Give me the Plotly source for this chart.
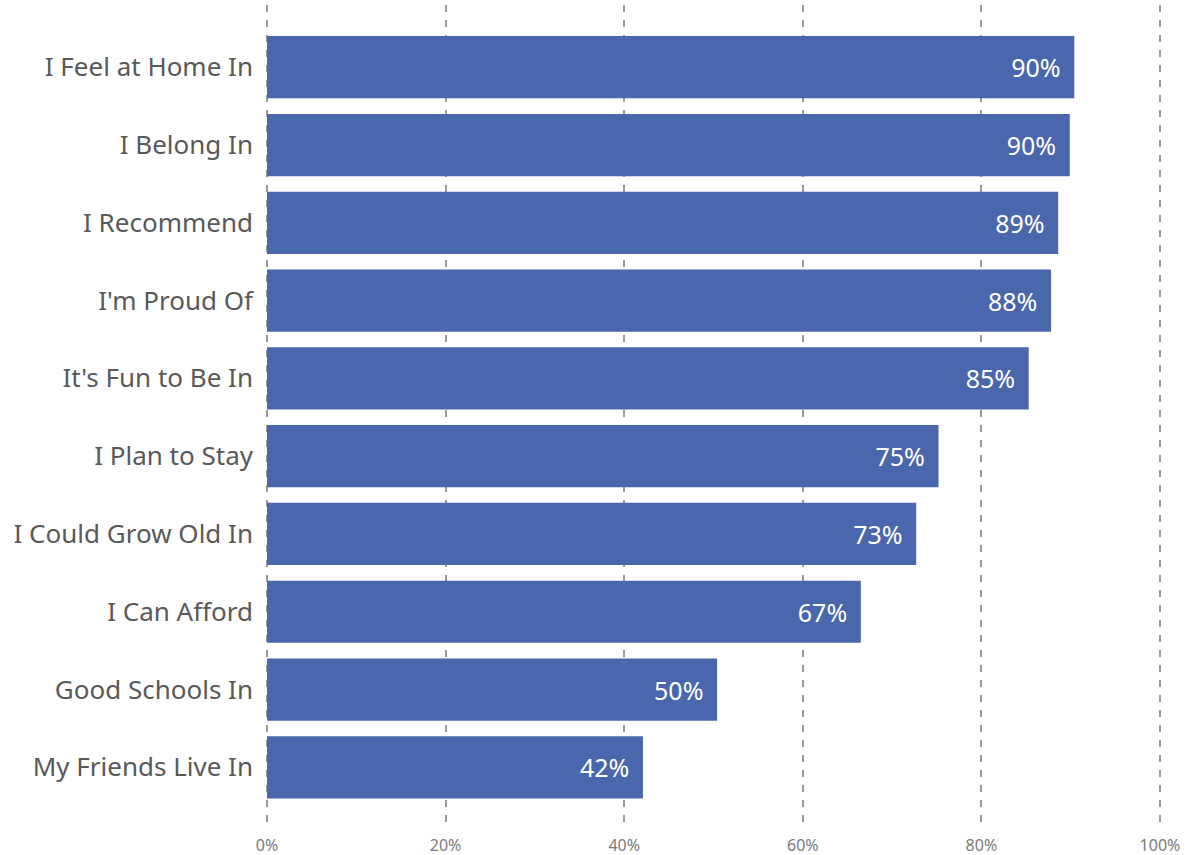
import plotly.graph_objects as go

categories = ["I Feel at Home In", "I Belong In", "I Recommend", "I'm Proud Of",
              "It's Fun to Be In", "I Plan to Stay", "I Could Grow Old In",
              "I Can Afford", "Good Schools In", "My Friends Live In"]
values = [90.4, 89.9, 88.6, 87.8, 85.3, 75.2, 72.7, 66.5, 50.4, 42.1]
tick_vals = [0, 20, 40, 60, 80, 100]
tick_text = ["0%", "20%", "40%", "60%", "80%", "100%"]

FONT = "Noto Sans"

fig = go.Figure(go.Bar(
    x=values, y=categories, orientation="h",
    marker=dict(color="#4A66AC", line=dict(width=0)),
    texttemplate="%{x:.0f}%\u00a0\u2009",
    textposition="inside", insidetextanchor="end",
    textfont=dict(family=FONT, size=25, color="white"),
    cliponaxis=False,
))

fig.update_layout(
    width=1186, height=855,
    margin=dict(l=263, r=22, t=5, b=27),
    paper_bgcolor="white", plot_bgcolor="white",
    bargap=0.2, showlegend=False,
    font=dict(family=FONT),
    xaxis=dict(range=[-0.45, 100.45], tickvals=tick_vals, ticktext=tick_text,
               showgrid=True, gridcolor="#9a9a9a", gridwidth=1.5, griddash="7px,8px",
               zeroline=False, showline=False, automargin=False,
               tickfont=dict(family=FONT, size=16, color="#7a7a7a"), ticks="",
               ticklabelstandoff=6),
    yaxis=dict(categoryorder="array", categoryarray=categories,
               range=[9.78, -0.8], showgrid=False, zeroline=False,
               tickfont=dict(family=FONT, size=26, color="#595959"),
               ticks="", ticklabelstandoff=9),
)

fig.write_html("out.html", config={"displayModeBar": False},
               post_script="document.body.style.margin='0';")
